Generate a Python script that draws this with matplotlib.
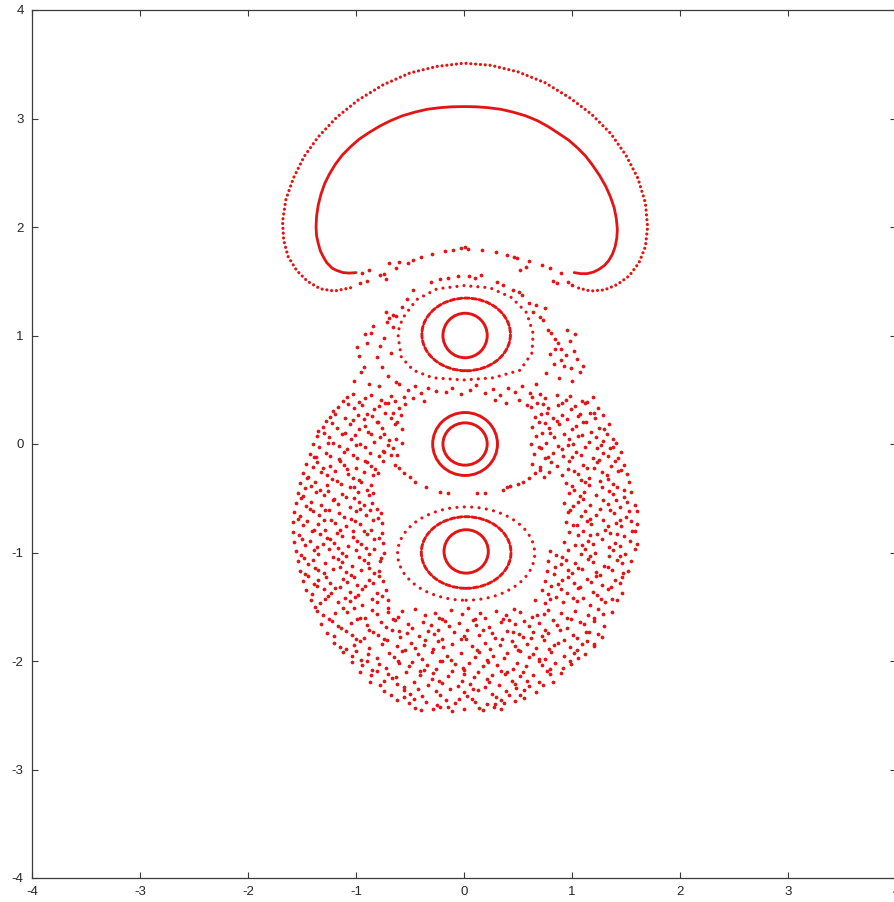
import matplotlib
matplotlib.use('Agg')
import matplotlib.pyplot as plt
import numpy as np
from matplotlib.patches import Ellipse

plt.rcParams['axes.unicode_minus'] = False
plt.rcParams['font.family'] = ['Liberation Sans', 'DejaVu Sans']

# --- orbits read off the section ---
# outer orbit of the top "cap" (dotted)
cap_outer = [(-1.05, 1.44), (-1.20, 1.41), (-1.33, 1.43), (-1.45, 1.50), (-1.55, 1.60),
             (-1.63, 1.73), (-1.67, 1.88), (-1.68, 2.05), (-1.65, 2.25), (-1.58, 2.45),
             (-1.48, 2.65), (-1.35, 2.83), (-1.18, 3.01), (-0.98, 3.17), (-0.75, 3.31),
             (-0.50, 3.42), (-0.25, 3.48), (0.00, 3.51), (0.25, 3.49), (0.50, 3.43),
             (0.75, 3.33), (0.98, 3.19), (1.18, 3.04), (1.36, 2.86), (1.50, 2.66),
             (1.61, 2.45), (1.68, 2.22), (1.70, 2.00), (1.68, 1.82), (1.62, 1.67),
             (1.53, 1.55), (1.42, 1.47), (1.30, 1.42), (1.17, 1.41), (1.05, 1.44)]
# inner orbit of the cap (dense)
cap_inner = [(-1.00, 1.58), (-1.06, 1.575), (-1.12, 1.58), (-1.18, 1.60), (-1.22, 1.62),
             (-1.27, 1.67), (-1.30, 1.72), (-1.33, 1.78), (-1.35, 1.85), (-1.365, 1.92),
             (-1.37, 2.00), (-1.365, 2.10), (-1.35, 2.20), (-1.325, 2.30), (-1.29, 2.40),
             (-1.245, 2.49), (-1.19, 2.58), (-1.125, 2.665), (-1.05, 2.74), (-0.97, 2.81),
             (-0.88, 2.87), (-0.78, 2.93), (-0.68, 2.98), (-0.57, 3.025), (-0.45, 3.06),
             (-0.34, 3.085), (-0.22, 3.10), (-0.11, 3.108), (0.00, 3.11), (0.11, 3.108),
             (0.22, 3.10), (0.34, 3.085), (0.45, 3.06), (0.57, 3.025), (0.68, 2.98),
             (0.78, 2.925), (0.88, 2.86), (0.97, 2.80), (1.05, 2.73), (1.125, 2.655),
             (1.19, 2.57), (1.255, 2.475), (1.31, 2.38), (1.355, 2.28), (1.39, 2.18),
             (1.41, 2.08), (1.42, 1.98), (1.415, 1.90), (1.40, 1.82), (1.375, 1.75),
             (1.34, 1.69), (1.30, 1.645), (1.25, 1.61), (1.20, 1.585), (1.14, 1.57),
             (1.08, 1.57), (1.02, 1.58)]
# outer (third) orbit around the top island
top_ring3 = [(0.00, 1.46), (-0.25, 1.43), (-0.44, 1.33), (-0.56, 1.17), (-0.60, 1.08),
             (-0.61, 0.99), (-0.58, 0.80), (-0.47, 0.68), (-0.29, 0.61), (0.00, 0.59),
             (0.27, 0.61), (0.52, 0.68), (0.63, 0.84), (0.64, 1.02), (0.58, 1.21),
             (0.44, 1.35), (0.24, 1.44), (0.00, 1.46)]

# elliptic islands: centre x, centre y, width, height
ring_cx = [0.01, 0.02, 0.01, 0.01, 0.02, 0.02, 0.02]
ring_cy = [1.00, 1.01, 0.00, 0.00, -0.99, -1.00, -1.01]
ring_w = [0.41, 0.82, 0.41, 0.60, 0.41, 0.83, 1.27]
ring_h = [0.41, 0.67, 0.39, 0.58, 0.40, 0.66, 0.86]
ring_kind = ['solid', 'dash', 'solid', 'solid', 'solid', 'dash', 'dot']

# separatrix layer between cap and islands
bridge = [(-0.96, 1.48), (-0.90, 1.50), (-0.78, 1.56), (-0.74, 1.57), (-0.63, 1.62),
          (-0.52, 1.67), (-0.47, 1.70), (-0.40, 1.72), (-0.30, 1.75), (-0.18, 1.78),
          (-0.10, 1.79), (-0.03, 1.81), (0.01, 1.82), (0.04, 1.80), (0.17, 1.79),
          (0.30, 1.77), (0.40, 1.74), (0.46, 1.72), (0.49, 1.71), (0.60, 1.69),
          (0.72, 1.65), (0.80, 1.62), (0.90, 1.58), (0.96, 1.49), (1.00, 1.47),
          (-0.94, 1.58), (-0.88, 1.60), (-0.69, 1.67), (-0.60, 1.68), (0.52, 1.60),
          (0.57, 1.63), (0.82, 1.50), (0.86, 1.48), (-0.72, 1.52)]
island_top_dots = [(-0.31, 1.49), (-0.22, 1.52), (-0.15, 1.53), (-0.06, 1.55), (0.05, 1.55),
                   (0.10, 1.53), (0.16, 1.56), (0.31, 1.49), (0.36, 1.47), (0.45, 1.42),
                   (0.51, 1.40), (0.54, 1.37), (-0.47, 1.42), (-0.53, 1.34), (-0.57, 1.26),
                   (-0.63, 1.18), (-0.66, 1.08), (0.60, 1.30), (0.64, 1.22)]
mid_arc = [(-0.50, -0.30), (-0.45, -0.35), (-0.35, -0.40), (-0.22, -0.44), (-0.15, -0.45),
           (0.12, -0.45), (0.19, -0.45), (0.36, -0.42), (0.40, -0.40), (0.43, -0.39),
           (0.50, -0.37), (0.55, -0.35), (-0.56, -0.27), (0.60, -0.31)]

# chaotic sea
sea_upper_left = [(-0.72, 1.22), (-0.69, 1.16), (-0.71, 1.12), (-0.66, 1.19), (-0.84, 1.09),
                  (-0.90, 0.93), (-0.78, 0.90), (-0.81, 0.80), (-0.86, 1.02), (-0.93, 0.71),
                  (-0.95, 0.66), (-0.76, 0.71), (-0.70, 0.63), (-1.02, 0.58), (-0.88, 0.55),
                  (-0.79, 0.53), (-0.63, 0.57), (-0.97, 0.81), (-0.74, 0.98), (-0.68, 0.84),
                  (-0.92, 1.01), (-0.99, 0.89)]
sea_upper_right = [(0.70, 1.17), (0.73, 1.14), (0.78, 1.05), (0.81, 1.02), (0.84, 0.97),
                   (0.87, 0.93), (0.90, 0.88), (0.84, 0.88), (0.80, 0.83), (0.90, 0.77),
                   (0.83, 0.74), (0.93, 0.72), (0.98, 0.95), (1.02, 0.86), (1.05, 0.78),
                   (0.99, 0.70), (1.07, 0.66), (0.76, 0.65), (0.88, 0.61), (1.00, 0.58),
                   (0.95, 1.05), (1.03, 1.01), (0.75, 1.25), (0.67, 1.28), (1.10, 0.72),
                   (0.94, 0.82)]
sea_band = [(-0.60, 0.55), (-0.52, 0.50), (-0.45, 0.53), (-0.40, 0.47), (-0.33, 0.52),
            (-0.26, 0.49), (-0.17, 0.48), (-0.11, 0.52), (-0.03, 0.46), (0.06, 0.50),
            (0.11, 0.54), (0.19, 0.47), (0.27, 0.51), (0.33, 0.45), (0.41, 0.52),
            (0.47, 0.48), (0.54, 0.53), (0.61, 0.47), (0.67, 0.55), (-0.47, 0.42),
            (-0.37, 0.40), (0.29, 0.41), (0.39, 0.38), (0.51, 0.41), (-0.55, 0.37),
            (0.58, 0.36)]
# scattered points lying between the rows below
sea_extra = [(-1.12, 0.40), (-0.97, 0.39), (-0.73, 0.38), (-1.21, 0.30), (-0.90, 0.28),
             (-0.66, 0.29), (-1.28, 0.21), (-1.03, 0.22), (-0.80, 0.20), (-0.62, 0.20),
             (-1.35, 0.12), (-1.10, 0.10), (-0.86, 0.09), (-0.69, 0.04), (-1.26, 0.01),
             (-1.00, -0.01), (-0.75, -0.06), (-1.39, -0.12), (-1.16, -0.14), (-0.92, -0.16),
             (-0.68, -0.10), (-1.31, -0.22), (-1.08, -0.23), (-0.82, -0.23), (-1.45, -0.31),
             (-1.22, -0.32), (-0.97, -0.33), (-1.47, -0.41), (-1.33, -0.42), (-1.06, -0.40),
             (-0.90, -0.42), (-1.51, -0.50), (-1.20, -0.51), (-1.02, -0.50), (-1.43, -0.60),
             (-1.25, -0.61), (-0.96, -0.60), (-0.81, -0.60), (-1.54, -0.69), (-1.30, -0.70),
             (-1.05, -0.69), (-0.80, -0.68), (-1.39, -0.79), (-1.15, -0.79), (-0.93, -0.80),
             (-1.50, -0.88), (-1.27, -0.87), (-1.03, -0.86), (-0.79, -0.87), (-1.36, -0.95),
             (-1.17, -0.96), (-0.91, -0.96), (-1.48, -1.05), (-1.21, -1.04), (-0.97, -1.04),
             (-0.77, -1.05), (-1.38, -1.14), (-1.15, -1.13), (-0.88, -1.14), (-1.44, -1.22),
             (-1.28, -1.23), (-1.02, -1.23), (-0.79, -1.22), (-1.36, -1.31), (-1.15, -1.32),
             (-0.92, -1.31), (-1.26, -1.40), (-1.01, -1.41), (-0.76, -1.40), (-1.38, -1.50),
             (-1.02, -1.51), (-0.70, -1.51),
             (0.68, 0.38), (0.91, 0.38), (1.14, 0.39), (0.77, 0.29), (1.07, 0.28),
             (1.20, 0.29), (0.69, 0.20), (0.86, 0.21), (1.10, 0.20), (1.30, 0.14),
             (0.80, 0.10), (1.06, 0.07), (1.29, 0.03), (0.71, -0.04), (0.96, -0.01),
             (1.23, -0.04), (1.38, -0.03), (0.75, -0.13), (1.00, -0.12), (1.25, -0.15),
             (1.43, -0.13), (0.70, -0.24), (0.96, -0.23), (1.20, -0.22), (1.45, -0.24),
             (1.08, -0.33), (1.33, -0.32), (1.48, -0.42), (1.02, -0.42), (1.28, -0.40),
             (1.10, -0.51), (1.41, -0.52), (0.98, -0.61), (1.26, -0.60), (1.53, -0.62),
             (1.17, -0.69), (1.44, -0.70), (1.05, -0.75), (1.33, -0.76), (1.56, -0.80),
             (1.17, -0.84), (1.42, -0.83), (1.09, -0.93), (1.34, -0.95), (0.91, -1.04),
             (1.17, -1.03), (1.44, -1.03), (0.84, -1.13), (1.06, -1.14), (1.33, -1.13),
             (0.96, -1.23), (1.22, -1.22), (1.46, -1.23), (0.81, -1.31), (1.07, -1.32),
             (1.36, -1.32), (0.85, -1.41), (1.10, -1.42), (1.37, -1.43),
             (-1.25, -1.61), (-0.92, -1.60), (-0.66, -1.61), (-0.20, -1.61), (0.10, -1.61),
             (0.42, -1.62), (0.68, -1.58), (0.95, -1.60), (1.20, -1.60), (-1.14, -1.70),
             (-0.88, -1.71), (-0.60, -1.72), (-0.24, -1.71), (0.18, -1.71), (0.45, -1.73),
             (0.75, -1.71), (1.13, -1.73), (-1.00, -1.80), (-0.74, -1.80), (-0.36, -1.81),
             (-0.03, -1.80), (0.35, -1.80), (0.62, -1.79), (0.93, -1.81), (1.20, -1.84),
             (-1.09, -1.89), (-0.55, -1.90), (-0.29, -1.89), (0.12, -1.90), (0.50, -1.90),
             (0.79, -1.89), (1.05, -1.90), (-0.95, -1.99), (-0.61, -2.00), (-0.20, -2.00),
             (0.21, -1.99), (0.69, -1.98), (0.98, -2.00), (-0.85, -2.08), (-0.41, -2.09),
             (0.00, -2.08), (0.40, -2.10), (0.80, -2.07), (-0.67, -2.16), (-0.23, -2.18),
             (0.21, -2.17), (0.58, -2.18), (-0.43, -2.26), (0.08, -2.26), (0.48, -2.25),
             (-0.56, -2.33), (-0.05, -2.35), (0.29, -2.40), (-0.22, -2.42), (0.42, -2.31)]

# rows of (x values, y values)
sea_left_rows = [
    ([-1.08, -1.03, -0.92, -0.86, -0.77, -0.68, -0.64, -0.56],
     [0.43, 0.46, 0.42, 0.45, 0.41, 0.44, 0.40, 0.43]),
    ([-1.17, -1.07, -1.02, -0.94, -0.83, -0.79, -0.70, -0.60],
     [0.34, 0.37, 0.33, 0.36, 0.32, 0.35, 0.38, 0.33]),
    ([-1.24, -1.19, -1.10, -0.98, -0.93, -0.85, -0.73, -0.68, -0.58],
     [0.25, 0.28, 0.24, 0.27, 0.23, 0.26, 0.29, 0.24, 0.27]),
    ([-1.31, -1.22, -1.18, -1.06, -0.97, -0.92, -0.81, -0.76, -0.64, -0.57],
     [0.16, 0.19, 0.15, 0.18, 0.14, 0.17, 0.20, 0.15, 0.18, 0.14]),
    ([-1.36, -1.30, -1.25, -1.13, -1.05, -1.01, -0.89, -0.78, -0.74, -0.63],
     [0.07, 0.10, 0.06, 0.09, 0.05, 0.08, 0.11, 0.06, 0.09, 0.05]),
    ([-1.40, -1.34, -1.21, -1.16, -1.08, -0.96, -0.92, -0.83, -0.70, -0.66, -0.57],
     [0.00, -0.03, 0.01, -0.02, -0.05, 0.00, -0.03, 0.02, -0.01, -0.04, 0.01]),
    ([-1.43, -1.37, -1.28, -1.24, -1.11, -1.03, -0.99, -0.87, -0.79, -0.74, -0.62],
     [-0.09, -0.12, -0.08, -0.11, -0.07, -0.10, -0.13, -0.08, -0.11, -0.07, -0.10]),
    ([-1.46, -1.40, -1.36, -1.24, -1.15, -1.11, -1.00, -0.90, -0.86, -0.75, -0.64, -0.60],
     [-0.18, -0.21, -0.17, -0.20, -0.16, -0.19, -0.22, -0.17, -0.20, -0.16, -0.19, -0.22]),
    ([-1.49, -1.44, -1.32, -1.27, -1.19, -1.07, -1.03, -0.93, -0.84, -0.80],
     [-0.27, -0.30, -0.26, -0.29, -0.25, -0.28, -0.31, -0.26, -0.29, -0.27]),
    ([-1.52, -1.42, -1.38, -1.27, -1.18, -1.14, -1.02, -0.95, -0.86],
     [-0.36, -0.39, -0.35, -0.38, -0.34, -0.37, -0.40, -0.35, -0.38]),
    ([-1.54, -1.49, -1.37, -1.30, -1.26, -1.13, -1.09, -0.98, -0.88, -0.84],
     [-0.45, -0.48, -0.44, -0.47, -0.43, -0.46, -0.49, -0.44, -0.47, -0.45]),
    ([-1.56, -1.46, -1.42, -1.32, -1.21, -1.17, -1.06, -0.97, -0.93, -0.85],
     [-0.54, -0.57, -0.53, -0.56, -0.52, -0.55, -0.58, -0.53, -0.56, -0.54]),
    ([-1.57, -1.52, -1.40, -1.34, -1.29, -1.16, -1.11, -1.00, -0.91, -0.87, -0.77],
     [-0.63, -0.66, -0.62, -0.65, -0.61, -0.64, -0.67, -0.62, -0.65, -0.61, -0.64]),
    ([-1.58, -1.49, -1.45, -1.35, -1.23, -1.19, -1.09, -1.01, -0.96, -0.84, -0.76],
     [-0.72, -0.75, -0.71, -0.74, -0.70, -0.73, -0.76, -0.71, -0.74, -0.70, -0.73]),
    ([-1.58, -1.53, -1.41, -1.33, -1.29, -1.18, -1.13, -1.03, -0.90, -0.86, -0.76],
     [-0.81, -0.84, -0.80, -0.83, -0.79, -0.82, -0.85, -0.80, -0.83, -0.79, -0.82]),
    ([-1.57, -1.47, -1.43, -1.31, -1.24, -1.20, -1.07, -0.99, -0.95, -0.83, -0.75],
     [-0.90, -0.93, -0.89, -0.92, -0.88, -0.91, -0.94, -0.89, -0.92, -0.88, -0.91]),
    ([-1.56, -1.51, -1.39, -1.35, -1.25, -1.13, -1.09, -1.00, -0.88, -0.83, -0.74],
     [-0.99, -1.02, -0.98, -1.01, -0.97, -1.00, -1.03, -0.98, -1.01, -0.97, -1.00]),
    ([-1.54, -1.44, -1.40, -1.29, -1.17, -1.13, -1.04, -0.93, -0.89, -0.78],
     [-1.08, -1.11, -1.07, -1.10, -1.06, -1.09, -1.12, -1.07, -1.10, -1.08]),
    ([-1.52, -1.47, -1.35, -1.30, -1.21, -1.09, -1.05, -0.95, -0.83, -0.79],
     [-1.17, -1.20, -1.16, -1.19, -1.15, -1.18, -1.21, -1.16, -1.19, -1.17]),
    ([-1.49, -1.39, -1.35, -1.24, -1.12, -1.08, -0.99, -0.88, -0.84, -0.75],
     [-1.26, -1.29, -1.25, -1.28, -1.24, -1.27, -1.30, -1.25, -1.28, -1.26]),
    ([-1.46, -1.41, -1.30, -1.23, -1.19, -1.06, -0.98, -0.94, -0.81, -0.72],
     [-1.35, -1.38, -1.34, -1.37, -1.33, -1.36, -1.39, -1.34, -1.37, -1.35]),
    ([-1.42, -1.33, -1.29, -1.17, -1.10, -1.06, -0.94, -0.85, -0.81, -0.70],
     [-1.44, -1.47, -1.43, -1.46, -1.42, -1.45, -1.48, -1.43, -1.46, -1.44]),
]
sea_right_rows = [
    ([0.63, 0.70, 0.75, 0.86, 0.94, 0.98, 1.09, 1.19],
     [0.43, 0.46, 0.42, 0.45, 0.41, 0.44, 0.40, 0.43]),
    ([0.62, 0.73, 0.78, 0.87, 0.99, 1.03, 1.12, 1.24],
     [0.34, 0.37, 0.33, 0.36, 0.32, 0.35, 0.38, 0.33]),
    ([0.66, 0.71, 0.82, 0.91, 0.95, 1.06, 1.17, 1.21, 1.29],
     [0.25, 0.28, 0.24, 0.27, 0.23, 0.26, 0.29, 0.24, 0.27]),
    ([0.63, 0.75, 0.79, 0.88, 1.00, 1.04, 1.13, 1.25, 1.34],
     [0.16, 0.19, 0.15, 0.18, 0.14, 0.17, 0.20, 0.15, 0.18]),
    ([0.67, 0.72, 0.83, 0.93, 0.97, 1.09, 1.18, 1.22, 1.32, 1.38],
     [0.07, 0.10, 0.06, 0.09, 0.05, 0.08, 0.11, 0.06, 0.09, 0.05]),
    ([0.62, 0.69, 0.76, 0.87, 0.91, 1.01, 1.12, 1.16, 1.27, 1.35, 1.41],
     [0.00, -0.03, 0.01, -0.02, -0.05, 0.00, -0.03, 0.02, -0.01, -0.04, 0.01]),
    ([0.65, 0.78, 0.82, 0.92, 1.04, 1.08, 1.19, 1.29, 1.33, 1.45],
     [-0.09, -0.12, -0.08, -0.11, -0.07, -0.10, -0.13, -0.08, -0.11, -0.07]),
    ([0.63, 0.70, 0.81, 0.86, 0.97, 1.10, 1.14, 1.23, 1.36, 1.40, 1.48],
     [-0.18, -0.21, -0.17, -0.20, -0.16, -0.19, -0.22, -0.17, -0.20, -0.16, -0.19]),
    ([0.66, 0.74, 0.79, 0.91, 1.02, 1.06, 1.16, 1.28, 1.32, 1.43, 1.51],
     [-0.27, -0.30, -0.26, -0.29, -0.25, -0.28, -0.31, -0.26, -0.29, -0.25, -0.28]),
    ([0.94, 1.00, 1.12, 1.16, 1.26, 1.38, 1.42, 1.53],
     [-0.36, -0.39, -0.35, -0.38, -0.34, -0.37, -0.40, -0.35]),
    ([0.97, 1.07, 1.11, 1.22, 1.34, 1.38, 1.48, 1.55],
     [-0.45, -0.48, -0.44, -0.47, -0.43, -0.46, -0.49, -0.44]),
    ([0.93, 1.01, 1.06, 1.17, 1.29, 1.33, 1.44, 1.51, 1.58],
     [-0.54, -0.57, -0.53, -0.56, -0.52, -0.55, -0.58, -0.53, -0.56]),
    ([0.96, 1.08, 1.12, 1.22, 1.35, 1.39, 1.50, 1.60],
     [-0.63, -0.66, -0.62, -0.65, -0.61, -0.64, -0.67, -0.62]),
    ([0.94, 1.01, 1.14, 1.18, 1.29, 1.41, 1.45, 1.55, 1.60],
     [-0.72, -0.75, -0.71, -0.74, -0.70, -0.73, -0.76, -0.71, -0.74]),
    ([0.97, 1.06, 1.10, 1.23, 1.31, 1.35, 1.48, 1.58],
     [-0.81, -0.84, -0.80, -0.83, -0.79, -0.82, -0.85, -0.80]),
    ([0.93, 1.03, 1.15, 1.19, 1.28, 1.40, 1.44, 1.54, 1.60],
     [-0.90, -0.93, -0.89, -0.92, -0.88, -0.91, -0.94, -0.89, -0.92]),
    ([0.80, 0.85, 0.96, 1.08, 1.12, 1.21, 1.34, 1.38, 1.49, 1.58],
     [-0.99, -1.02, -0.98, -1.01, -0.97, -1.00, -1.03, -0.98, -1.01, -0.97]),
    ([0.78, 0.90, 0.94, 1.03, 1.15, 1.19, 1.30, 1.42, 1.46, 1.55],
     [-1.08, -1.11, -1.07, -1.10, -1.06, -1.09, -1.12, -1.07, -1.10, -1.08]),
    ([0.77, 0.83, 0.96, 1.00, 1.09, 1.22, 1.26, 1.37, 1.47, 1.52],
     [-1.17, -1.20, -1.16, -1.19, -1.15, -1.18, -1.21, -1.16, -1.19, -1.17]),
    ([0.75, 0.87, 0.91, 1.02, 1.14, 1.18, 1.28, 1.40, 1.44],
     [-1.26, -1.29, -1.25, -1.28, -1.24, -1.27, -1.30, -1.25, -1.28]),
    ([0.72, 0.78, 0.90, 0.95, 1.06, 1.19, 1.23, 1.33, 1.46],
     [-1.35, -1.38, -1.34, -1.37, -1.33, -1.36, -1.39, -1.34, -1.37]),
    ([0.66, 0.75, 0.80, 0.92, 1.01, 1.05, 1.17, 1.27, 1.31, 1.42],
     [-1.44, -1.47, -1.43, -1.46, -1.42, -1.45, -1.48, -1.43, -1.46, -1.44]),
]
sea_bottom_rows = [
    ([-1.36, -1.31, -1.19, -1.12, -1.08, -0.96, -0.85, -0.81, -0.70, -0.61, -0.57, -0.45,
      -0.36, -0.27, -0.23, -0.12, -0.02, 0.04, 0.15, 0.19, 0.30, 0.39, 0.46, 0.52, 0.63,
      0.74, 0.78, 0.90, 0.99, 1.03, 1.15, 1.24, 1.29, 1.37],
     [-1.54, -1.58, -1.56, -1.51, -1.55, -1.60, -1.53, -1.57, -1.55, -1.59, -1.54, -1.52,
      -1.58, -1.56, -1.60, -1.53, -1.57, -1.51, -1.56, -1.60, -1.54, -1.58, -1.52, -1.55,
      -1.59, -1.57, -1.53, -1.56, -1.61, -1.54, -1.58, -1.52, -1.57, -1.55]),
    ([-1.32, -1.22, -1.17, -1.05, -0.99, -0.90, -0.77, -0.72, -0.64, -0.52, -0.48, -0.38,
      -0.31, -0.18, -0.14, -0.05, 0.08, 0.11, 0.23, 0.34, 0.36, 0.47, 0.56, 0.60, 0.69,
      0.82, 0.86, 0.95, 1.07, 1.11, 1.20, 1.30],
     [-1.66, -1.63, -1.68, -1.65, -1.61, -1.67, -1.64, -1.69, -1.62, -1.66, -1.70, -1.64,
      -1.67, -1.63, -1.68, -1.65, -1.62, -1.67, -1.69, -1.64, -1.61, -1.66, -1.63, -1.68,
      -1.65, -1.62, -1.67, -1.70, -1.64, -1.66, -1.63, -1.68]),
    ([-1.27, -1.20, -1.09, -1.04, -0.93, -0.84, -0.80, -0.67, -0.59, -0.53, -0.42, -0.33,
      -0.28, -0.20, -0.09, 0.00, 0.03, 0.14, 0.26, 0.29, 0.40, 0.51, 0.55, 0.64, 0.72,
      0.78, 0.89, 1.01, 1.05, 1.16, 1.24, 1.28],
     [-1.74, -1.77, -1.72, -1.76, -1.79, -1.73, -1.76, -1.71, -1.78, -1.74, -1.77, -1.72,
      -1.75, -1.80, -1.73, -1.77, -1.71, -1.76, -1.74, -1.79, -1.72, -1.75, -1.78, -1.73,
      -1.77, -1.74, -1.71, -1.76, -1.79, -1.73, -1.75, -1.78]),
    ([-1.20, -1.15, -1.02, -0.96, -0.88, -0.76, -0.71, -0.62, -0.49, -0.45, -0.37, -0.24,
      -0.19, -0.11, 0.02, 0.07, 0.19, 0.24, 0.33, 0.44, 0.47, 0.58, 0.67, 0.74, 0.83,
      0.87, 0.98, 1.09, 1.14, 1.20],
     [-1.83, -1.87, -1.85, -1.82, -1.88, -1.84, -1.81, -1.86, -1.83, -1.88, -1.85, -1.82,
      -1.87, -1.84, -1.80, -1.86, -1.83, -1.89, -1.85, -1.82, -1.86, -1.84, -1.88, -1.81,
      -1.85, -1.83, -1.87, -1.84, -1.82, -1.86]),
    ([-1.12, -1.04, -1.00, -0.89, -0.81, -0.69, -0.65, -0.57, -0.43, -0.39, -0.30, -0.16,
      -0.12, -0.03, 0.10, 0.14, 0.27, 0.37, 0.40, 0.52, 0.60, 0.64, 0.75, 0.81, 0.93,
      1.02, 1.06, 1.12],
     [-1.92, -1.95, -1.91, -1.94, -1.97, -1.93, -1.96, -1.91, -1.94, -1.98, -1.92, -1.95,
      -1.99, -1.93, -1.96, -1.92, -1.95, -1.97, -1.93, -1.91, -1.96, -1.94, -1.98, -1.92,
      -1.95, -1.93, -1.97, -1.94]),
    ([-1.04, -0.94, -0.90, -0.79, -0.72, -0.60, -0.51, -0.48, -0.34, -0.26, -0.22, -0.08,
      -0.01, 0.05, 0.18, 0.22, 0.31, 0.45, 0.49, 0.57, 0.69, 0.72, 0.84, 0.92, 0.99],
     [-2.01, -2.04, -2.00, -2.03, -2.06, -2.02, -2.05, -2.01, -2.04, -2.07, -2.00, -2.03,
      -2.06, -2.02, -2.05, -2.01, -2.04, -2.07, -2.02, -2.05, -2.00, -2.04, -2.02, -2.06,
      -2.03]),
    ([-0.96, -0.86, -0.81, -0.70, -0.63, -0.54, -0.41, -0.37, -0.29, -0.15, -0.11, 0.00,
      0.09, 0.13, 0.26, 0.34, 0.38, 0.52, 0.55, 0.64, 0.77, 0.80, 0.90],
     [-2.10, -2.13, -2.09, -2.12, -2.15, -2.10, -2.13, -2.08, -2.11, -2.14, -2.09, -2.12,
      -2.15, -2.10, -2.13, -2.09, -2.12, -2.14, -2.10, -2.13, -2.09, -2.12, -2.11]),
    ([-0.87, -0.78, -0.74, -0.62, -0.56, -0.46, -0.33, -0.30, -0.20, -0.06, -0.02, 0.06,
      0.19, 0.23, 0.32, 0.44, 0.47, 0.60, 0.69, 0.73, 0.82],
     [-2.19, -2.22, -2.18, -2.21, -2.24, -2.19, -2.22, -2.17, -2.20, -2.23, -2.18, -2.21,
      -2.24, -2.19, -2.22, -2.18, -2.21, -2.23, -2.19, -2.22, -2.19]),
    ([-0.74, -0.68, -0.56, -0.50, -0.39, -0.26, -0.22, -0.13, 0.00, 0.03, 0.13, 0.26,
      0.30, 0.39, 0.52, 0.56, 0.67],
     [-2.28, -2.31, -2.27, -2.30, -2.32, -2.28, -2.31, -2.26, -2.29, -2.32, -2.27, -2.30,
      -2.33, -2.28, -2.31, -2.27, -2.29]),
    ([-0.62, -0.51, -0.46, -0.35, -0.25, -0.17, -0.08, 0.07, 0.10, 0.21, 0.34, 0.37,
      0.47, 0.56],
     [-2.36, -2.39, -2.35, -2.38, -2.41, -2.36, -2.39, -2.35, -2.38, -2.40, -2.36, -2.39,
      -2.37, -2.34]),
    ([-0.45, -0.40, -0.29, -0.15, -0.11, 0.00, 0.14, 0.18, 0.28, 0.34],
     [-2.43, -2.45, -2.44, -2.42, -2.46, -2.44, -2.43, -2.45, -2.42, -2.44]),
]

RED = '#e41414'
AXC = '#3a3a3a'

fig = plt.figure(figsize=(8.94, 9.02), dpi=100)
ax = fig.add_axes([32 / 894, 24 / 902, 864 / 894, 868 / 902])


def dotted_line(pts, lw, gap):
    arr = np.array(pts)
    ax.plot(arr[:, 0], arr[:, 1], color=RED, lw=lw, linestyle=(0, (0.01, gap)),
            dash_capstyle='round', solid_capstyle='round')


def dots(xs, ys):
    ax.plot(xs, ys, 'o', color=RED, ms=2.7, mew=0)


dotted_line(cap_outer, 2.3, 1.5)
arr = np.array(cap_inner)
ax.plot(arr[:, 0], arr[:, 1], color=RED, lw=2.0, solid_capstyle='round',
        solid_joinstyle='round')
dotted_line(top_ring3, 2.3, 2.2)

styles = {'solid': dict(linestyle='-', lw=2.1),
          'dash': dict(linestyle=(0, (1.6, 0.9)), lw=2.1),
          'dot': dict(linestyle=(0, (0.01, 2.3)), lw=2.3)}
for cx, cy, w, h, kind in zip(ring_cx, ring_cy, ring_w, ring_h, ring_kind):
    e = Ellipse((cx, cy), w, h, fill=False, edgecolor=RED, **styles[kind])
    e.set_capstyle('round')
    ax.add_patch(e)

for grp in [bridge, island_top_dots, mid_arc, sea_upper_left, sea_upper_right,
            sea_band, sea_extra]:
    arr = np.array(grp)
    dots(arr[:, 0], arr[:, 1])

for xs, ys in sea_left_rows + sea_right_rows + sea_bottom_rows:
    n = min(len(xs), len(ys))
    dots(xs[:n], ys[:n])

ax.set_xlim(-4, 4)
ax.set_ylim(-4, 4)
ax.set_xticks(range(-4, 5))
ax.set_yticks(range(-4, 5))
ax.tick_params(direction='in', length=4.5, width=0.8, top=True, right=True,
               color=AXC, labelcolor='#262626', labelsize=9.5, pad=6)
for sp in ax.spines.values():
    sp.set_color(AXC)
    sp.set_linewidth(0.9)

fig.savefig('out.png', dpi=100)
